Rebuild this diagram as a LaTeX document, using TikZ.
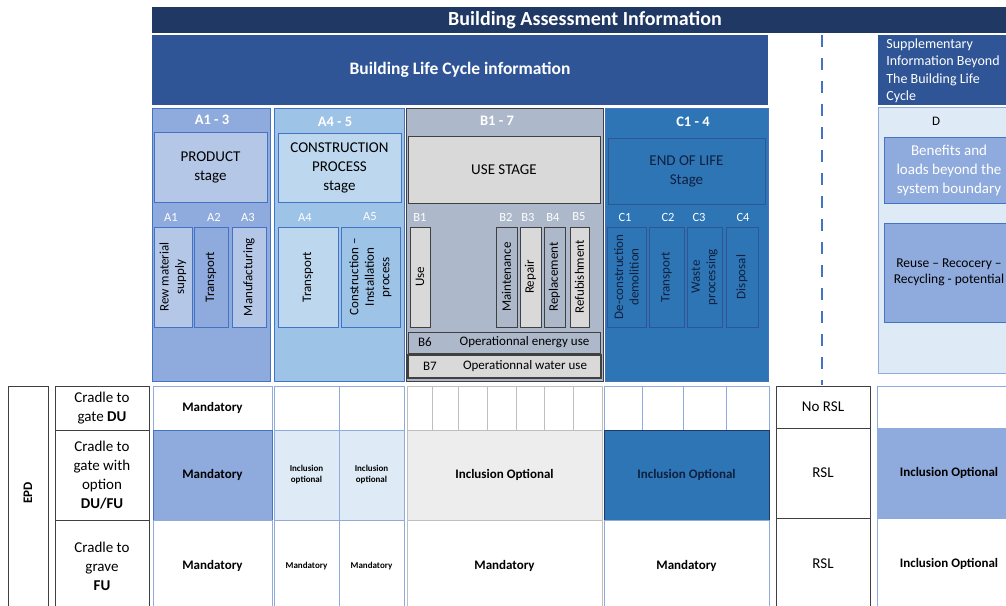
\documentclass[tikz,border=0pt]{standalone}
\usepackage{fontspec}
\setmainfont{Carlito}
\definecolor{navy}{HTML}{203864}
\definecolor{deepnavy}{HTML}{0F1F3D}
\definecolor{lcblue}{HTML}{2F5597}
\definecolor{edge}{HTML}{4472C4}
\definecolor{aprod}{HTML}{8FAADC}
\definecolor{aprodlt}{HTML}{B4C7E7}
\definecolor{acons}{HTML}{9DC3E6}
\definecolor{aconslt}{HTML}{BDD7EE}
\definecolor{buse}{HTML}{ADB9CA}
\definecolor{buselt}{HTML}{D9D9D9}
\definecolor{bpale}{HTML}{EDEDED}
\definecolor{ceol}{HTML}{2E75B6}
\definecolor{dben}{HTML}{DEEBF7}
\definecolor{dgray}{HTML}{404040}
\definecolor{lgray}{HTML}{BFBFBF}

\begin{document}
\begin{tikzpicture}[x=1pt,y=-1pt,line width=0.8pt,
    font=\fontsize{13}{15.5}\selectfont,
    blk/.style={draw,anchor=north west,inner sep=0pt,outer sep=0pt,align=center},
    subbox/.style={draw,rotate=90,inner sep=0pt,minimum width=100,align=center},
    hdr/.style={text=white,font=\bfseries\fontsize{14.5}{16}\selectfont},
    tagtxt/.style={text=white,font=\fontsize{12.5}{14}\selectfont},
    bigtxt/.style={font=\fontsize{15}{19}\selectfont},
    tcell/.style={blk,font=\bfseries\fontsize{13}{15}\selectfont},
    smalltxt/.style={font=\bfseries\fontsize{9}{11}\selectfont},
    lab/.style={blk,draw=dgray,font=\fontsize{15}{19}\selectfont}]
  \useasboundingbox (0,0) rectangle (1006,605);

  % banners
  \node[blk,draw=none,fill=navy,minimum width=866,minimum height=26,text=white,
    font=\bfseries\fontsize{20}{22}\selectfont] (bai) at (152,7) {Building Assessment Information};
  \node[blk,draw=none,fill=lcblue,minimum width=616,minimum height=70,text=white,
    font=\bfseries\fontsize{17.5}{20}\selectfont] (blc) at (152,35) {Building Life Cycle information};
  \node[blk,draw=none,fill=lcblue,minimum width=134,minimum height=70] (sup) at (878,35) {};
  \node[anchor=north west,inner sep=0pt,align=left,text=white,
    font=\fontsize{14}{17.5}\selectfont] (supt) at (886,38) {Supplementary\\Information Beyond\\The Building Life\\Cycle};

  \coordinate (dtop) at (822,35);
  \coordinate (dbot) at (822,385);
  \draw[edge,line width=2.5pt,dash pattern=on 12pt off 11pt] (dtop) -- (dbot);

  % stage columns
  \node[blk,draw=edge,fill=aprod,minimum width=118,minimum height=273] (a13) at (152,108) {};
  \node[blk,draw=edge,fill=acons,minimum width=130,minimum height=273] (a45) at (274,108) {};
  \node[blk,draw=dgray,fill=buse,minimum width=197,minimum height=273] (b17) at (406,108) {};
  \node[blk,draw=edge,fill=ceol,minimum width=163,minimum height=273] (c14) at (605,108) {};
  \node[blk,draw=aprod,fill=dben,minimum width=140,minimum height=266] (dcol) at (878,107) {};

  \node[hdr] (a13h) at (212,120) {A1 - 3};
  \node[hdr] (a45h) at (335,122) {A4 - 5};
  \node[hdr] (b17h) at (497,121) {B1 - 7};
  \node[hdr] (c14h) at (693,122) {C1 - 4};
  \node (dh) at (936,121) {D};

  \node[blk,draw=edge,fill=aprodlt,bigtxt,minimum width=113,minimum height=70] (prod) at (154,132) {PRODUCT\\stage};
  \node[blk,draw=edge,fill=aconslt,bigtxt,minimum width=123,minimum height=69] (cons) at (278,133) {CONSTRUCTION\\PROCESS\\stage};
  \node[blk,draw=dgray,fill=buselt,bigtxt,minimum width=192,minimum height=67] (use) at (408,136) {USE STAGE};
  \node[blk,draw=lcblue,fill=ceol,text=deepnavy,bigtxt,minimum width=157,minimum height=66] (eol) at (608,138) {END OF LIFE\\Stage};
  \node[blk,draw=edge,fill=aprod,text=white,bigtxt,minimum width=130,minimum height=66] (ben) at (884,137) {Benefits and\\loads beyond the\\system boundary};
  \node[blk,draw=edge,fill=aprod,font=\fontsize{13.5}{16.5}\selectfont,minimum width=130,minimum height=99] (reuse) at (884,223) {Reuse -- Recocery --\\Recycling - potential};

  \foreach \t/\x in {A1/171,A2/214,A3/248,A4/305,A5/370,B1/420,B2/506,B3/528,B4/553,B5/579,C1/625,C2/668,C3/699,C4/743}
    \node[tagtxt] (tag\t) at (\x,217) {\t};

  \foreach \n/\x/\w/\c/\t in {a1/173/38/aprodlt/{Rew material\\supply},a2/211/34/aprod/Transport,
      a3/249/34/aprodlt/Manufacturing,a4/308/60/aconslt/Transport,
      a5/370.5/59/acons/{Construction --\\Installation\\process}}
    \node[subbox,draw=edge,fill=\c,minimum height=\w] (\n) at (\x,277) {\t};
  \foreach \n/\x/\w/\c/\t in {b1/420/20/buselt/Use,b2/506.5/21/buse/Maintenance,b3/530.5/21/buselt/Repair,
      b4/554.5/21/buse/Replacement,b5/579.5/19/buselt/Refubishment}
    \node[subbox,draw=dgray,fill=\c,minimum height=\w] (\n) at (\x,277) {\t};
  \foreach \n/\x/\w/\t in {c1/626.5/39/{De-construction\\demolition},c2/666.5/35/Transport,
      c3/704.5/35/{Waste\\processing},c4/742/32/Disposal}
    \node[subbox,draw=lcblue,fill=ceol,text=deepnavy,minimum height=\w] (\n) at (\x,277) {\t};

  \node[blk,draw=dgray,fill=buse,minimum width=192,minimum height=21] (b6) at (408,332) {};
  \node (b6l) at (425,342.5) {B6};
  \node (b6t) at (524.5,342.5) {Operationnal energy use};
  \node[blk,draw=dgray,line width=1.2pt,fill=buselt,minimum width=193,minimum height=23] (b7) at (408,355) {};
  \node (b7l) at (430,366.5) {B7};
  \node (b7t) at (525,366.5) {Operationnal water use};

  % EPD table
  \node[blk,draw=dgray,minimum width=40,minimum height=230] (epd) at (8,386) {};
  \node[rotate=90,font=\bfseries\fontsize{13}{15}\selectfont] (epdt) at (28,493) {EPD};
  \node[lab,minimum width=94,minimum height=44] (r1) at (55,386) {Cradle to\\gate \textbf{DU}};
  \node[lab,minimum width=94,minimum height=90] (r2) at (55,430) {Cradle to\\gate with\\option\\\textbf{DU/FU}};
  \node[lab,minimum width=94,minimum height=92] (r3) at (55,520) {Cradle to\\grave\\\textbf{FU}};

  \node[tcell,draw=aprod,minimum width=119,minimum height=44] (a13-r1) at (153,386) {Mandatory};
  \node[tcell,draw=edge,fill=aprod,minimum width=119,minimum height=90] (a13-r2) at (153,430) {Mandatory};
  \node[tcell,draw=aprod,minimum width=119,minimum height=92] (a13-r3) at (153,520) {Mandatory};
  \foreach \n/\x in {a4/274,a5/339} {
    \node[tcell,smalltxt,draw=aprod,minimum width=65,minimum height=44] (\n-r1) at (\x,386) {};
    \node[tcell,smalltxt,draw=aprod,fill=dben,minimum width=65,minimum height=90] (\n-r2) at (\x,430) {Inclusion\\optional};
    \node[tcell,smalltxt,draw=aprod,minimum width=65,minimum height=92] (\n-r3) at (\x,520) {Mandatory};
  }

  \foreach \xa/\xb [count=\i] in {407/432,432/458,458/487,487/516,516/544,544/573,573/602}
    \node[tcell,draw=lgray,minimum width={\xb-\xa},minimum height=44] (b\i-r1) at (\xa,386) {};
  \node[tcell,draw=lgray,fill=bpale,minimum width=195,minimum height=90] (b-r2) at (407,430) {Inclusion Optional};
  \node[tcell,draw=lgray,minimum width=195,minimum height=92] (b-r3) at (407,520) {Mandatory};

  \foreach \xa/\xb [count=\i] in {604/642,642/683,683/726,726/769}
    \node[tcell,draw=aprod,minimum width={\xb-\xa},minimum height=44] (c\i-r1) at (\xa,386) {};
  \node[tcell,draw=navy,fill=ceol,text=deepnavy,minimum width=165,minimum height=90] (c-r2) at (604,430) {Inclusion Optional};
  \node[tcell,draw=aprod,minimum width=165,minimum height=92] (c-r3) at (604,520) {Mandatory};

  \node[lab,minimum width=94,minimum height=42] (rsl1) at (776,386) {No RSL};
  \node[lab,minimum width=94,minimum height=90] (rsl2) at (776,428) {RSL};
  \node[lab,minimum width=94,minimum height=92] (rsl3) at (776,518) {RSL};

  \node[tcell,draw=aprod,minimum width=144,minimum height=42] (d-r1) at (877,386) {};
  \node[tcell,draw=aprod,fill=aprod,minimum width=144,minimum height=90] (d-r2) at (877,428) {Inclusion Optional};
  \node[tcell,draw=aprod,minimum width=144,minimum height=92] (d-r3) at (877,518) {Inclusion Optional};
\end{tikzpicture}
\end{document}
